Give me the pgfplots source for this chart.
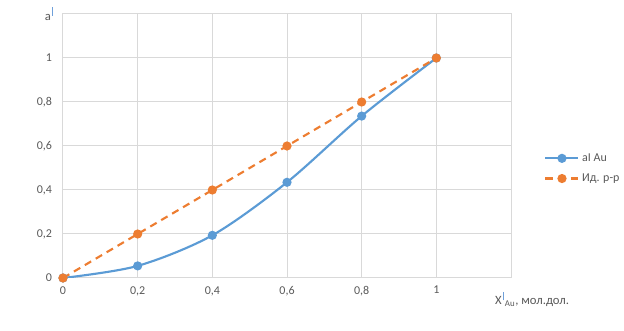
\documentclass[border=0pt]{standalone}
\usepackage{pgfplots}
\pgfplotsset{compat=1.18}
\usepackage{fontspec}
\setmainfont{Carlito}
\definecolor{ablue}{HTML}{5B9BD5}
\definecolor{aorange}{HTML}{ED7D31}
\definecolor{agrid}{HTML}{D9D9D9}
\definecolor{atext}{HTML}{595959}
\definecolor{ibar}{HTML}{6FA0DA}
\newcommand{\ibar}{\hspace{1pt}\textcolor{ibar}{\rule[3.5pt]{0.9pt}{6.5pt}}\hspace{0.5pt}}
\begin{document}
\fontsize{9}{11}\selectfont
\begin{tikzpicture}
\path[use as bounding box] (-47.25pt,-39.75pt) rectangle (420.75pt,208.5pt);
\begin{axis}[
  at={(0,0)}, anchor=south west,
  scale only axis, width=336pt, height=198pt,
  xmin=0, xmax=1.2, ymin=0, ymax=1.2,
  xtick={0,0.2,0.4,0.6,0.8,1},
  ytick={0,0.2,0.4,0.6,0.8,1},
  xticklabels={0,{0,2},{0,4},{0,6},{0,8},1},
  yticklabels={0,{0,2},{0,4},{0,6},{0,8},1},
  extra x ticks={1.2}, extra x tick labels={},
  extra y ticks={1.2}, extra y tick labels={},
  extra tick style={grid=major},
  grid=major,
  major grid style={agrid, line width=0.75pt},
  axis line style={agrid, line width=0.75pt},
  tick style={draw=none},
  ticklabel style={font=\fontsize{9}{11}\selectfont, text=atext},
  xticklabel style={yshift=-3pt},
  yticklabel style={xshift=-5pt},
  xlabel={X\ibar\textsubscript{Au}, мол.дол.},
  every axis x label/.style={at={(rel axis cs:0.955,0)}, anchor=north west, yshift=-7pt, font=\fontsize{9.5}{11}\selectfont, text=atext},
  ylabel={a\ibar},
  every axis y label/.style={at={(rel axis cs:0,1)}, anchor=base east, xshift=-4pt, yshift=-5pt, font=\fontsize{9.5}{11}\selectfont, text=atext},
  legend style={at={(rel axis cs:1.065,0.415)}, anchor=west, draw=none, fill=none,
    font=\fontsize{9}{11}\selectfont, text=atext, row sep=4pt},
  legend cell align=left,
  legend image code/.code={
    \draw[#1] (0pt,0pt) -- (24.75pt,0pt);
    \draw[#1, solid, mark repeat=1] plot coordinates {(12.4pt,0pt)};
  },
]
\addplot[ablue, line width=1.6pt, smooth, tension=0.5, mark=*, mark size=2.6pt, mark options={solid, fill=ablue, draw=ablue}]
  coordinates {(0,0) (0.2,0.055) (0.4,0.194) (0.6,0.435) (0.8,0.736) (1,1)};
\addlegendentry{aI Au}
\addplot[aorange, line width=1.6pt, dash pattern=on 5.5pt off 4pt, mark=*, mark size=2.6pt, mark options={solid, fill=aorange, draw=aorange}]
  coordinates {(0,0) (0.2,0.2) (0.4,0.4) (0.6,0.6) (0.8,0.8) (1,1)};
\addlegendentry{Ид. р-р}
\end{axis}
\end{tikzpicture}
\end{document}
